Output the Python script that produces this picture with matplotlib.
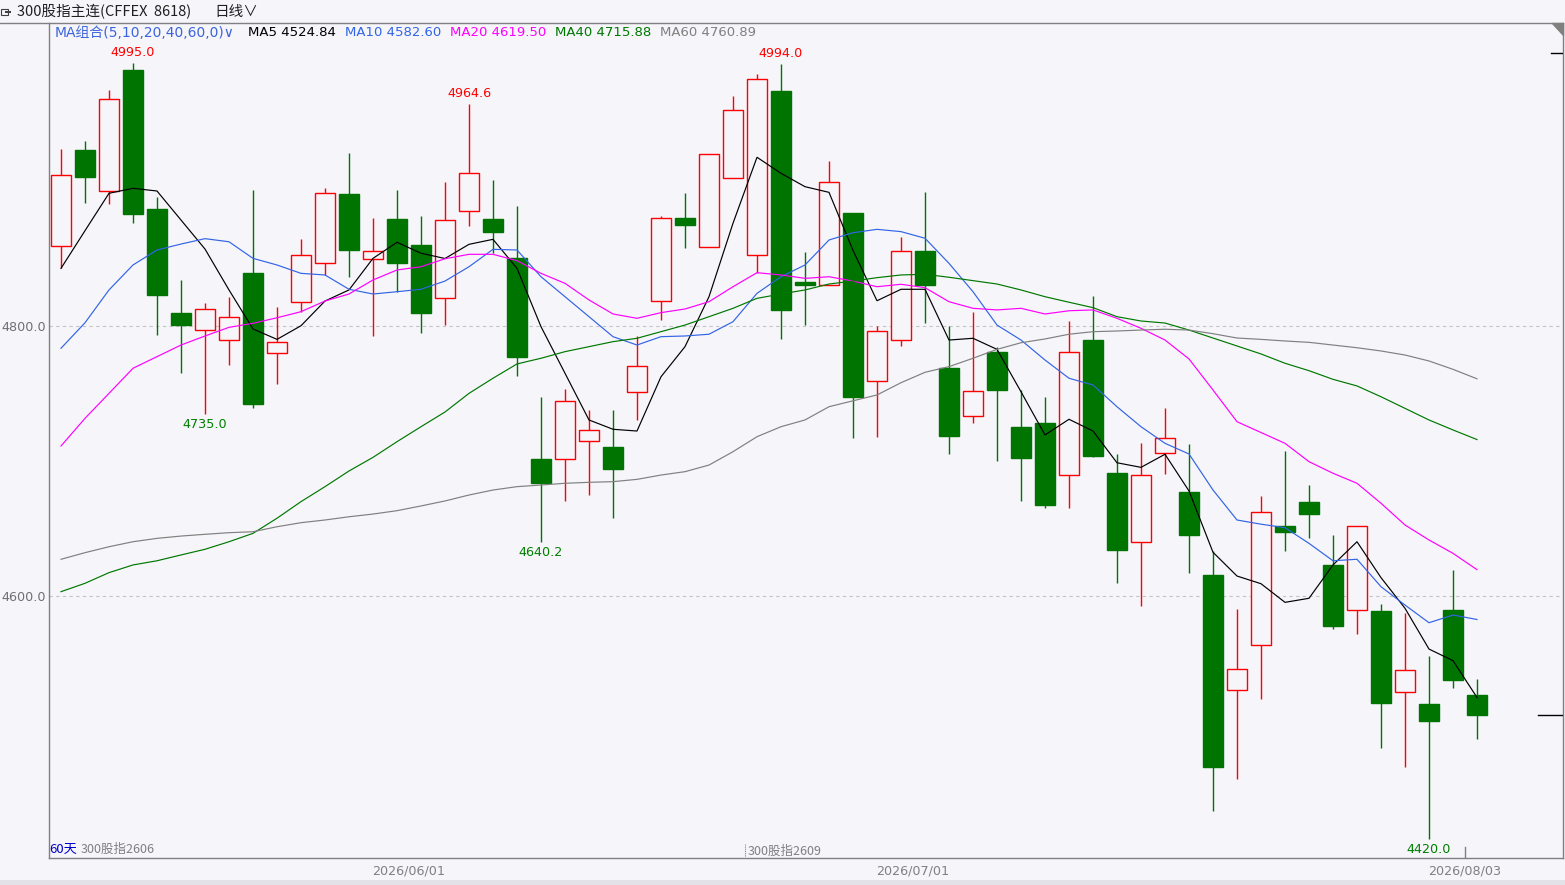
import numpy as np
import matplotlib
matplotlib.use("Agg")
import matplotlib.pyplot as plt
from matplotlib.patches import Polygon, Rectangle
from matplotlib.lines import Line2D

# ---------------- data ----------------
opens = [4859.5, 4930.4, 4900.2, 4989.6, 4886.7, 4809.6, 4796.8, 4789.4, 4839.3, 4779.8,
         4817.6, 4846.4, 4897.8, 4849.4, 4879.3, 4860.0, 4820.5, 4885.4, 4879.3, 4850.3,
         4701.4, 4701.2, 4714.7, 4710.6, 4751.2, 4818.8, 4879.8, 4858.7, 4909.5, 4852.3,
         4974.2, 4832.5, 4830.2, 4883.7, 4759.0, 4789.4, 4855.6, 4768.9, 4733.1, 4780.7,
         4725.2, 4728.1, 4689.4, 4789.6, 4691.1, 4639.8, 4705.7, 4677.0, 4615.3, 4530.1,
         4563.5, 4651.9, 4669.6, 4623.0, 4589.4, 4588.9, 4528.7, 4520.0, 4589.6, 4526.7]
highs = [4931.1, 4937.3, 4974.8, 4995.0, 4895.3, 4834.1, 4816.8, 4821.5, 4900.5, 4814.1,
         4864.4, 4902.2, 4928.1, 4880.0, 4900.7, 4881.5, 4906.7, 4964.6, 4908.1, 4888.7,
         4747.2, 4753.5, 4737.5, 4738.0, 4792.9, 4881.8, 4898.3, 4927.5, 4970.4, 4986.7,
         4994.0, 4855.1, 4921.9, 4883.7, 4800.0, 4866.1, 4899.3, 4800.0, 4810.6, 4784.7,
         4752.6, 4747.4, 4803.7, 4822.4, 4705.2, 4713.3, 4739.5, 4712.6, 4633.3, 4590.4,
         4674.1, 4707.4, 4682.2, 4645.2, 4651.6, 4594.1, 4587.4, 4555.6, 4619.3, 4538.5]
lows = [4843.0, 4891.3, 4890.4, 4876.5, 4793.3, 4765.0, 4735.0, 4771.1, 4739.5, 4756.8,
        4810.6, 4837.8, 4836.5, 4792.8, 4825.4, 4795.0, 4800.7, 4874.3, 4853.9, 4762.9,
        4640.2, 4670.7, 4675.0, 4657.5, 4730.4, 4804.8, 4857.6, 4858.7, 4909.5, 4839.1,
        4790.1, 4801.0, 4830.2, 4716.8, 4718.0, 4785.4, 4802.0, 4705.0, 4727.9, 4700.2,
        4670.6, 4665.4, 4664.9, 4703.2, 4609.9, 4592.8, 4690.1, 4617.3, 4440.7, 4464.4,
        4523.9, 4633.6, 4643.2, 4575.8, 4572.1, 4487.6, 4473.6, 4420.0, 4532.1, 4494.3]
closes = [4911.9, 4910.6, 4967.9, 4883.2, 4823.0, 4800.7, 4812.4, 4806.4, 4742.4, 4787.9,
          4852.4, 4898.3, 4856.5, 4855.3, 4846.9, 4809.9, 4878.3, 4913.1, 4869.9, 4776.9,
          4683.4, 4744.6, 4722.7, 4694.3, 4770.5, 4879.8, 4874.7, 4927.5, 4960.0, 4982.9,
          4811.9, 4830.4, 4907.0, 4747.6, 4796.1, 4855.3, 4830.6, 4718.7, 4751.6, 4752.8,
          4702.4, 4667.6, 4780.5, 4703.9, 4634.3, 4689.4, 4716.8, 4645.4, 4473.3, 4545.7,
          4662.2, 4647.6, 4661.0, 4578.0, 4651.6, 4521.0, 4545.0, 4507.6, 4538.0, 4511.9]

ma5 = [4842.7, 4870.6, 4898.3, 4902.0, 4900.0, 4878.5, 4857.0, 4826.7, 4797.8, 4790.1,
       4800.2, 4818.5, 4826.7, 4850.1, 4862.0, 4853.9, 4850.0, 4860.5, 4864.2, 4842.7,
       4799.5, 4765.0, 4730.4, 4723.5, 4722.2, 4762.4, 4784.7, 4821.7, 4876.1, 4925.0,
       4913.1, 4903.2, 4899.0, 4856.0, 4818.7, 4827.2, 4827.2, 4789.6, 4790.9, 4782.7,
       4751.3, 4719.3, 4730.9, 4722.2, 4698.7, 4695.3, 4705.0, 4677.8, 4632.4, 4614.8,
       4609.1, 4595.3, 4598.3, 4623.0, 4640.2, 4613.6, 4590.9, 4560.7, 4552.1, 4524.84]
ma10 = [4783.5, 4802.4, 4826.7, 4845.2, 4856.3, 4860.7, 4864.7, 4862.4, 4850.1, 4845.2,
        4839.0, 4837.8, 4827.2, 4823.7, 4825.4, 4827.2, 4833.3, 4843.9, 4856.8, 4856.3,
        4836.5, 4821.7, 4806.9, 4792.1, 4785.9, 4792.1, 4792.6, 4793.9, 4803.2, 4824.2,
        4836.5, 4845.2, 4863.7, 4869.1, 4871.6, 4869.9, 4865.0, 4846.4, 4825.4, 4800.7,
        4789.6, 4774.8, 4761.3, 4756.3, 4740.2, 4725.4, 4713.1, 4705.2, 4678.5, 4656.3,
        4653.2, 4650.6, 4639.0, 4626.1, 4627.2, 4606.9, 4593.3, 4580.2, 4585.9, 4582.60]
ma20 = [4711.1, 4731.6, 4750.1, 4768.7, 4777.3, 4785.9, 4792.6, 4799.0, 4802.0, 4806.1,
        4810.6, 4818.5, 4823.7, 4834.1, 4841.5, 4843.9, 4849.8, 4853.1, 4853.1, 4848.4,
        4839.0, 4831.6, 4819.3, 4808.9, 4805.7, 4809.9, 4812.6, 4818.0, 4829.1, 4839.5,
        4837.8, 4835.3, 4836.5, 4833.3, 4829.1, 4830.9, 4828.4, 4818.0, 4813.1, 4811.9,
        4813.1, 4808.9, 4811.3, 4811.9, 4805.7, 4798.3, 4789.6, 4775.6, 4752.6, 4729.1,
        4721.1, 4713.1, 4699.5, 4690.9, 4683.5, 4668.7, 4652.6, 4641.5, 4631.6, 4619.50]
ma40 = [4603.2, 4609.4, 4617.3, 4623.0, 4626.1, 4630.4, 4634.6, 4640.2, 4646.4, 4657.6,
        4669.9, 4681.0, 4692.6, 4702.7, 4714.3, 4725.4, 4736.3, 4750.1, 4761.3, 4771.9,
        4776.1, 4781.0, 4784.7, 4788.4, 4790.9, 4795.8, 4800.7, 4806.9, 4813.1, 4820.5,
        4823.7, 4826.7, 4831.1, 4833.3, 4835.8, 4837.8, 4838.3, 4836.1, 4833.6, 4831.1,
        4826.7, 4821.7, 4817.6, 4813.6, 4806.9, 4803.7, 4802.2, 4797.0, 4791.1, 4785.2,
        4779.3, 4772.4, 4766.9, 4760.5, 4755.6, 4747.6, 4739.0, 4730.4, 4723.0, 4715.88]
ma60 = [4627.2, 4632.1, 4636.5, 4640.2, 4642.7, 4644.4, 4645.7, 4646.9, 4647.6, 4651.3,
        4654.3, 4656.3, 4658.7, 4660.7, 4663.2, 4666.7, 4670.4, 4674.8, 4678.5, 4681.0,
        4682.2, 4683.5, 4684.2, 4684.7, 4686.4, 4689.6, 4692.1, 4697.0, 4706.9, 4718.0,
        4725.4, 4730.4, 4740.2, 4744.6, 4748.9, 4758.0, 4765.7, 4769.9, 4776.1, 4782.7,
        4787.6, 4790.4, 4793.9, 4795.8, 4796.3, 4797.0, 4797.6, 4797.0, 4794.3, 4791.1,
        4790.1, 4788.9, 4787.9, 4785.9, 4783.9, 4781.5, 4778.5, 4774.1, 4767.9, 4760.89]

ma_names = ["MA5", "MA10", "MA20", "MA40", "MA60"]
ma_series = [ma5, ma10, ma20, ma40, ma60]
ma_colors = ["#000000", "#3264e6", "#ff00ff", "#007800", "#808080"]

high_label_idx = [3, 17, 30]
low_label_idx = [6, 20, 57]

yticks = [4600, 4800]
date_labels = ["2026/06/01", "2026/07/01", "2026/08/03"]
date_pos = [14.5, 35.5, 58.5]
contract_labels = ["300股指2606", "300股指2609"]
contract_pos = [-0.5, 28.5]
days_label = "60天"

title_text = "300股指主连(CFFEX  8618)"
period_text = "日线∨"
ma_group_text = "MA组合(5,10,20,40,60,0)∨"

# ---------------- style ----------------
W, H = 1565, 885
BG = "#f5f5fa"
UP = "#ff0000"
DOWN = "#007400"
CJK = ["Noto Sans CJK SC", "DejaVu Sans"]
MIX = ["DejaVu Sans", "Noto Sans CJK SC"]

def fx(x):
    return x / W

def fy(y):
    return 1 - y / H

fig = plt.figure(figsize=(W / 100, H / 100), dpi=100, facecolor=BG)

# plot area in pixels: left 49, right 1563, top 23, bottom 858
ax = fig.add_axes([fx(49), fy(858), (1563 - 49) / W, (858 - 23) / H])
ax.set_facecolor(BG)

n = len(closes)
x = np.arange(n)
o = np.array(opens); c = np.array(closes)
h = np.array(highs); l = np.array(lows)
up = c >= o
body_lo = np.minimum(o, c)
body_hi = np.maximum(o, c)
colors = np.where(up, UP, DOWN)

ax.vlines(x, l, body_lo, colors=colors, lw=1.0, zorder=2)
ax.vlines(x, body_hi, h, colors=colors, lw=1.0, zorder=2)
faces = [BG if u else DOWN for u in up]
ax.bar(x, np.maximum(body_hi - body_lo, 0.6), bottom=body_lo, width=0.84,
       color=faces, edgecolor=colors, linewidth=1.0, zorder=3)

for s, col in zip(ma_series, ma_colors):
    ax.plot(x, s, color=col, lw=0.85, zorder=4, solid_joinstyle="miter")

for i in high_label_idx:
    ax.annotate(f"{highs[i]:.1f}", (x[i], highs[i]), xytext=(0, 3),
                textcoords="offset points", ha="center", va="bottom",
                color=UP, fontsize=9.2, family="DejaVu Sans", zorder=6)
for i in low_label_idx:
    ax.annotate(f"{lows[i]:.1f}", (x[i], lows[i]), xytext=(0, -3),
                textcoords="offset points", ha="center", va="top",
                color="#008000", fontsize=9.2, family="DejaVu Sans", zorder=6)

# grid
for v in yticks:
    ax.axhline(v, color="#c4c4c4", lw=0.8, ls=(0, (3, 3)), zorder=1)

ax.set_xlim(-0.5, (1563 - 61) / 24)
ax.set_ylim(4800 - (858 - 326) / 1.35, 4800 + (326 - 23) / 1.35)

ax.set_yticks(yticks)
ax.set_yticklabels([f"{v:.1f}" for v in yticks], color="#707070", fontsize=9.2,
                   family="DejaVu Sans")
ax.tick_params(axis="y", length=0, pad=2)
ax.set_xticks(date_pos)
ax.set_xticklabels(date_labels, color="#808080", fontsize=9.2, family="DejaVu Sans")
ax.tick_params(axis="x", length=0, pad=5)

for sp in ["left", "bottom", "right"]:
    ax.spines[sp].set_color("#808080")
    ax.spines[sp].set_linewidth(1.0)
ax.spines["top"].set_visible(False)

# last date tick mark inside the plot
ax.plot([date_pos[-1], date_pos[-1]], [0, 0.013], transform=ax.get_xaxis_transform(),
        color="#808080", lw=1.0, zorder=5)

# current price marker at the right edge
ax.axhline(closes[-1], xmin=(1538 - 49) / (1563 - 49), xmax=1.0, color="black", lw=1.0, zorder=5)
ax.axhline(4800 + (326 - 53) / 1.35, xmin=(1551 - 49) / (1563 - 49), xmax=1.0,
           color="black", lw=1.0, zorder=5)

# contract / day-count labels along the bottom of the plot
xt = ax.get_xaxis_transform()
ax.text(contract_pos[0], 0.003, days_label, transform=xt,
        ha="left", va="bottom", color="#0000cc", fontsize=9.5, family=CJK, zorder=6)
ax.text(contract_pos[0] + 1.33, 0.003, contract_labels[0], transform=xt,
        ha="left", va="bottom", color="#808080", fontsize=9, family=CJK, zorder=5)
ax.plot([contract_pos[1], contract_pos[1]], [0.002, 0.017], transform=xt,
        color="#808080", lw=0.8, ls=(0, (1, 1)), zorder=5)
ax.text(contract_pos[1] + 0.1, 0.0, contract_labels[1], transform=xt,
        ha="left", va="bottom", color="#808080", fontsize=9, family=CJK, zorder=5)

# header line and title
fig.add_artist(Line2D([0, fx(1563)], [fy(23), fy(23)], color="#808080", lw=1.0))
fig.add_artist(Polygon([[fx(1552), fy(23)], [fx(1563), fy(23)], [fx(1563), fy(35)]],
                       closed=True, color="#808080"))
fig.add_artist(Rectangle((fx(1), fy(15)), fx(7), 1 / H * 6, facecolor="none",
                         edgecolor="#404040", lw=0.8))
fig.add_artist(Rectangle((fx(5), fy(13)), fx(6), 1 / H * 2, facecolor="#404040",
                         edgecolor="none"))
fig.text(fx(17), fy(12), title_text, ha="left", va="center", fontsize=10.5,
         family=CJK, color="#202020")
fig.text(fx(214), fy(12), period_text, ha="left", va="center", fontsize=10.5,
         family=CJK, color="#202020")

# MA legend row
fig.text(fx(55), fy(33), ma_group_text, ha="left", va="center", fontsize=10,
         family=MIX, color="#3c64dc")
legend_x = [248, 345, 450, 555, 660]
for name, s, col, lx in zip(ma_names, ma_series, ma_colors, legend_x):
    fig.text(fx(lx), fy(33), f"{name} {s[-1]:.2f}", ha="left", va="center",
             fontsize=9.5, family="DejaVu Sans", color=col)

# bottom strip
fig.add_artist(Rectangle((0, 0), 1, 5 / H, facecolor="#e2e2e8", edgecolor="none"))

fig.savefig("out.png", dpi=100, facecolor=BG)
